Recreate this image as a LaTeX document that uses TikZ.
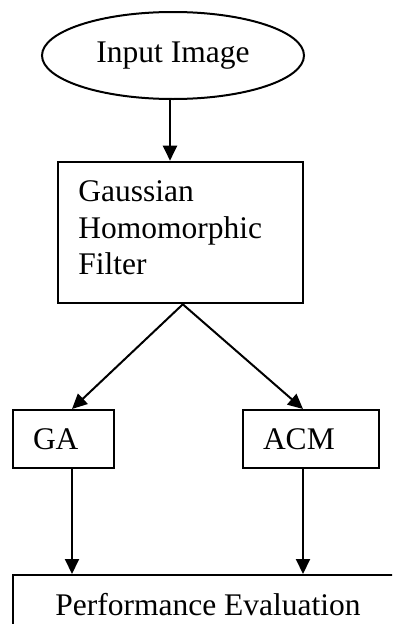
\documentclass[tikz,border=0pt]{standalone}
\usepackage{fontspec}
\setmainfont{Liberation Serif}
\usetikzlibrary{shapes.geometric,arrows.meta}
\begin{document}
\begin{tikzpicture}[x=1pt,y=-1pt, line width=2pt,
  every node/.style={font=\fontsize{31.5}{36.7}\selectfont, inner sep=0pt},
  boxnode/.style={draw, rectangle},
  arr/.style={-{Triangle[length=15pt,width=14pt]}}]
\clip (0,0) rectangle (392,624);
\node[draw, ellipse, minimum width=262pt, minimum height=87pt] (in) at (173,55.5) {Input Image};
\node[boxnode, minimum width=245pt, minimum height=141.6pt, text width=205pt, align=left, text depth=83.1pt] (g) at (180.8,232.5) {Gaussian\\Homomorphic\\Filter};
\node[boxnode, minimum width=101pt, minimum height=57.5pt, text width=61pt, align=left] (ga) at (63.5,438.75) {GA};
\node[boxnode, minimum width=136pt, minimum height=57.5pt, text width=96pt, align=left] (acm) at (311,438.75) {ACM};
\node[boxnode, minimum width=390pt, minimum height=58.4pt] (pe) at (208,604.2) {Performance Evaluation};
\draw[arr] ([xshift=-3pt]in.south) -- ([xshift=-3pt]in.south |- g.north);
\draw[arr] ([xshift=2pt]g.south) -- ([xshift=8.5pt]ga.north);
\draw[arr] ([xshift=2pt]g.south) -- ([xshift=-8pt]acm.north);
\draw[arr] ([xshift=8.5pt]ga.south) -- ([xshift=8.5pt]ga.south |- pe.north);
\draw[arr] ([xshift=-8pt]acm.south) -- ([xshift=-8pt]acm.south |- pe.north);
\end{tikzpicture}
\end{document}
